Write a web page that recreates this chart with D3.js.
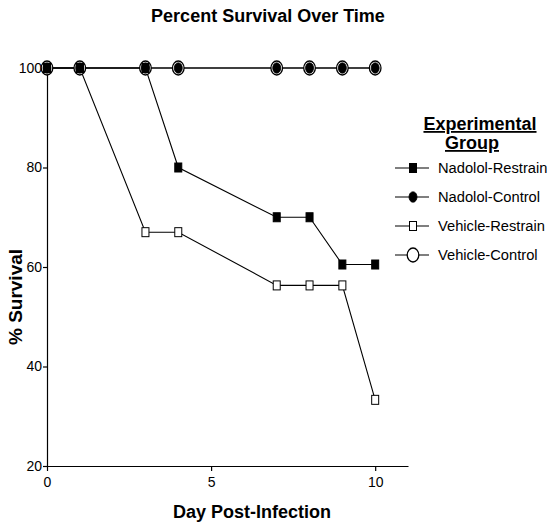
<!DOCTYPE html>
<html>
<head>
<meta charset="utf-8">
<script src="https://cdn.jsdelivr.net/npm/d3@7"></script>
<style>
  body { margin: 0; background: #fff; }
  text { font-family: "Liberation Sans", Arial, sans-serif; fill: #000; }
</style>
</head>
<body>
<svg id="chart" width="547" height="523"></svg>
<script>
// data
const days = [0, 1, 3, 4, 7, 8, 9, 10];
const nadololRestrain = [100, 100, 100, 80, 70, 70, 60.5, 60.5];
const nadololControl = [100, 100, 100, 100, 100, 100, 100, 100];
const vehicleRestrain = [100, 100, 67, 67, 56.3, 56.3, 56.3, 33.3];
const vehicleControl = [100, 100, 100, 100, 100, 100, 100, 100];
const xTicks = [0, 5, 10];
const yTicks = [20, 40, 60, 80, 100];

// draw order matters: open markers go below the filled ones
const series = [
  {name: 'Vehicle-Control', values: vehicleControl, shape: 'circle', filled: false},
  {name: 'Vehicle-Restrain', values: vehicleRestrain, shape: 'square', filled: false},
  {name: 'Nadolol-Control', values: nadololControl, shape: 'circle', filled: true},
  {name: 'Nadolol-Restrain', values: nadololRestrain, shape: 'square', filled: true}
];
const legendOrder = ['Nadolol-Restrain', 'Nadolol-Control', 'Vehicle-Restrain', 'Vehicle-Control'];

const svg = d3.select('#chart');
const x = d3.scaleLinear().domain([0, 11]).range([47, 408]);
const y = d3.scaleLinear().domain([20, 100]).range([466, 68]);

// axes
const gx = svg.append('g').attr('transform', `translate(0,${y(20)})`)
  .call(d3.axisBottom(x).tickValues(xTicks).tickSize(5).tickSizeOuter(0).tickPadding(6));
const gy = svg.append('g').attr('transform', `translate(${x(0)},0)`)
  .call(d3.axisLeft(y).tickValues(yTicks).tickSize(4).tickSizeOuter(0).tickPadding(1));
[gx, gy].forEach(g => {
  g.selectAll('path, line').attr('stroke', '#000').attr('stroke-width', 1.2);
  g.selectAll('text').attr('font-size', 14).attr('fill', '#000');
});

// series lines
const line = d3.line().x(d => x(d[0])).y(d => y(d[1]));
series.forEach(s => {
  svg.append('path')
    .datum(days.map((d, i) => [d, s.values[i]]))
    .attr('d', line).attr('fill', 'none').attr('stroke', '#000').attr('stroke-width', 1.1);
});

function marker(g, s, cx, cy) {
  if (s.shape === 'circle') {
    g.append('ellipse').attr('cx', cx).attr('cy', cy)
      .attr('rx', s.filled ? 4 : 5.8).attr('ry', s.filled ? 5.2 : 7)
      .attr('fill', s.filled ? '#000' : '#fff').attr('stroke', '#000')
      .attr('stroke-width', s.filled ? 0.8 : 1.3);
  } else {
    g.append('rect').attr('x', cx - 3.5).attr('y', cy - 4.5).attr('width', 7).attr('height', 9)
      .attr('fill', s.filled ? '#000' : '#fff').attr('stroke', '#000').attr('stroke-width', 1);
  }
}

series.forEach(s => {
  const g = svg.append('g');
  days.forEach((d, i) => marker(g, s, x(d), y(s.values[i])));
});

// titles
svg.append('text').attr('x', 268).attr('y', 22).attr('text-anchor', 'middle')
  .attr('font-size', 18).attr('font-weight', 'bold').text('Percent Survival Over Time');
svg.append('text').attr('x', 252).attr('y', 518).attr('text-anchor', 'middle')
  .attr('font-size', 18).attr('font-weight', 'bold').text('Day Post-Infection');
svg.append('text').attr('transform', 'translate(22,297) rotate(-90)').attr('text-anchor', 'middle')
  .attr('font-size', 19).attr('font-weight', 'bold').text('% Survival');

// legend
const lg = svg.append('g');
lg.append('text').attr('x', 480).attr('y', 130).attr('text-anchor', 'middle')
  .attr('font-size', 18).attr('font-weight', 'bold').attr('text-decoration', 'underline').text('Experimental');
lg.append('text').attr('x', 472).attr('y', 149).attr('text-anchor', 'middle')
  .attr('font-size', 18).attr('font-weight', 'bold').attr('text-decoration', 'underline').text('Group');
legendOrder.forEach((name, i) => {
  const s = series.find(t => t.name === name);
  const ly = 168 + i * 29;
  lg.append('line').attr('x1', 395).attr('x2', 429).attr('y1', ly).attr('y2', ly)
    .attr('stroke', '#000').attr('stroke-width', 1.1);
  marker(lg, s, 413, ly);
  lg.append('text').attr('x', 438).attr('y', ly + 5).attr('font-size', 14.7).text(name);
});
</script>
</body>
</html>
